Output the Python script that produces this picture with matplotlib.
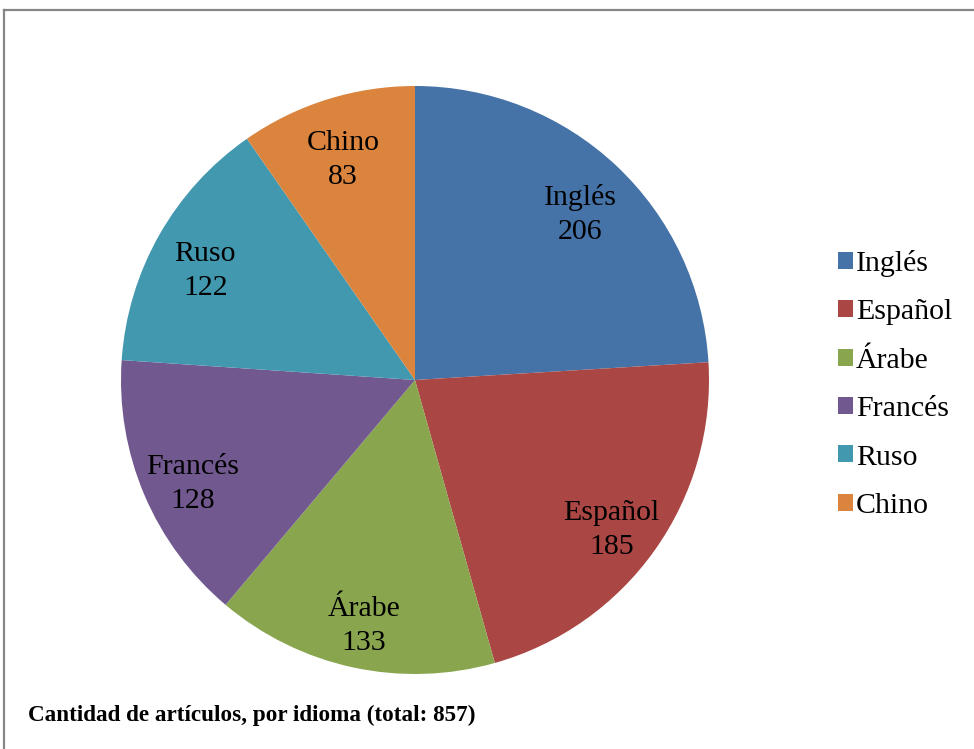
import matplotlib
matplotlib.use('Agg')
from matplotlib import pyplot as plt
from matplotlib.lines import Line2D
from matplotlib.patches import Patch
from matplotlib.transforms import ScaledTranslation

idiomas = ['Inglés', 'Español', 'Árabe', 'Francés', 'Ruso', 'Chino']
articulos = [206, 185, 133, 128, 122, 83]
colores = ['#4572A7', '#AA4643', '#89A54E', '#71588F', '#4198AF', '#DB843D']
titulo = 'Cantidad de artículos, por idioma (total: %d)' % sum(articulos)

W, H = 974, 749
plt.rcParams['font.family'] = ['Liberation Serif', 'DejaVu Serif']

fig = plt.figure(figsize=(W/100, H/100), dpi=100)

# pie centre and radius in pixels
cx, cy, r = 415, 380, 294
ax = fig.add_axes([(cx - r)/W, (H - cy - r)/H, 2*r/W, 2*r/H])

etiquetas = ['%s\n%d' % (n, v) for n, v in zip(idiomas, articulos)]
wedges, textos = ax.pie(articulos, colors=colores, startangle=90,
                        counterclock=False, labels=etiquetas,
                        labeldistance=0.82, wedgeprops={'linewidth': 0},
                        textprops={'fontsize': 21.5, 'ha': 'center',
                                   'va': 'center', 'linespacing': 1.4})
# labels sit a little lower than the wedge centre line
bajar = ScaledTranslation(0, -10/100, fig.dpi_scale_trans)
for t in textos:
    t.set_transform(t.get_transform() + bajar)
ax.set_xlim(-1, 1)
ax.set_ylim(-1, 1)
ax.set_aspect('equal')
ax.axis('off')

# legend
handles = [Patch(facecolor=c, edgecolor='none') for c in colores]
fig.legend(handles, idiomas, loc='upper left',
           bbox_to_anchor=(823/W, 1 - 235/H), frameon=False,
           fontsize=21.5, handlelength=0.5, handleheight=0.5,
           handletextpad=0.1, labelspacing=0.75, borderpad=0)

# caption
fig.text(28/W, 1 - 715/H, titulo, fontsize=16.7, fontweight='bold',
         ha='left', va='center')

# outer frame (top and left edges visible)
fig.add_artist(Line2D([4/W, 1], [1 - 10/H, 1 - 10/H], color='#878787',
                      linewidth=1.6, transform=fig.transFigure))
fig.add_artist(Line2D([4/W, 4/W], [0, 1 - 10/H], color='#878787',
                      linewidth=1.6, transform=fig.transFigure))

fig.savefig('out.png', dpi=100, facecolor='white')
